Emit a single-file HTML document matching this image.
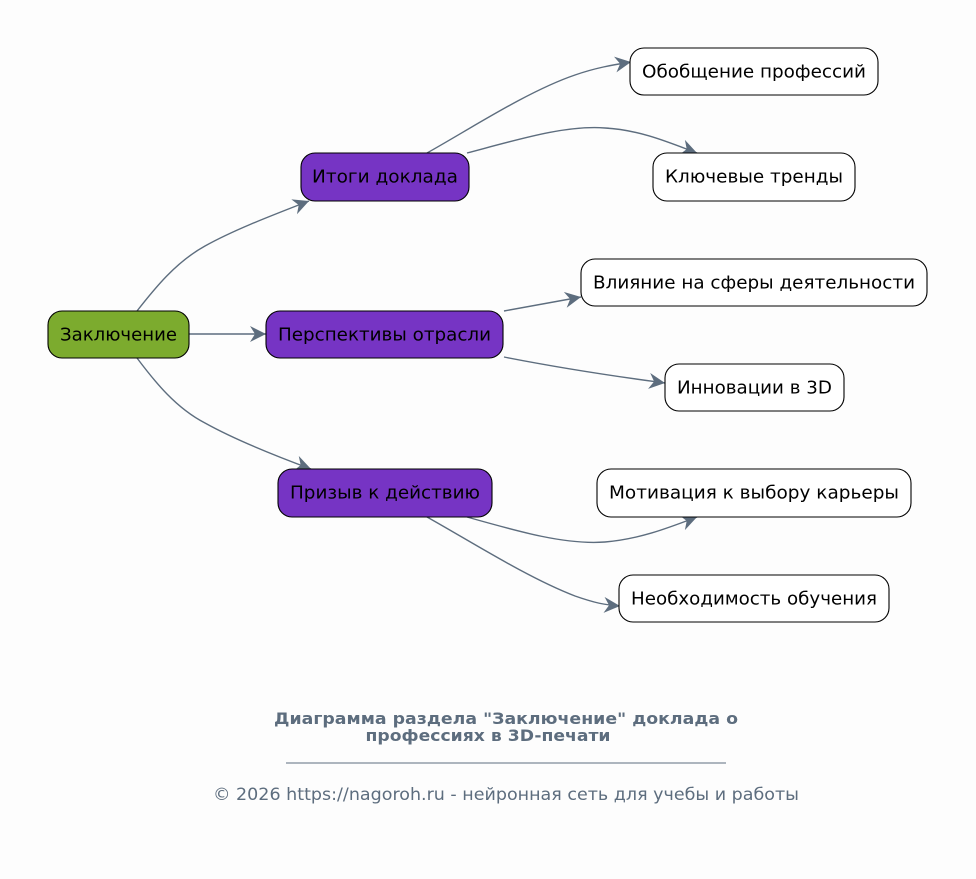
<!DOCTYPE html>
<html><head><meta charset="utf-8"><style>
html,body{margin:0;padding:0;background:#fdfdfd;}
svg{display:block;}
text{font-family:"DejaVu Sans","Liberation Sans",sans-serif;}
</style></head><body>
<svg width="976" height="879" viewBox="0 0 976 879" xmlns="http://www.w3.org/2000/svg">
<defs>
<marker id="a" markerUnits="userSpaceOnUse" markerWidth="22" markerHeight="18" refX="16" refY="8" orient="auto">
<path d="M16,8 L0,0 L5,8 L0,16 Z" fill="#5d6d7e"/>
</marker>
</defs>
<rect width="976" height="879" fill="#fdfdfd"/>
<g fill="none" stroke="#5d6d7e" stroke-width="1.4">
<path d="M137,311 C155,288 176,262 205,246 C232,231 265,218 309,201" marker-end="url(#a)"/>
<path d="M189,334 L266,334" marker-end="url(#a)"/>
<path d="M137,358 C155,382 176,408 205,423 C232,438 265,452 311,469" marker-end="url(#a)"/>
<path d="M427,153 C470,129 528,91 575,75 C595,68 612,65 631,62" marker-end="url(#a)"/>
<path d="M467,153 C520,139 566,125 605,128 C640,130 668,142 697,153" marker-end="url(#a)"/>
<path d="M504,311 L581,297" marker-end="url(#a)"/>
<path d="M504,357 C560,368 620,377 665,383" marker-end="url(#a)"/>
<path d="M467,517 C520,532 566,545 605,542 C640,539 668,528 697,517" marker-end="url(#a)"/>
<path d="M427,517 C470,541 528,578 575,596 C595,603 605,605 620,606" marker-end="url(#a)"/>
</g>
<g stroke="#000" stroke-width="1.1">
<rect x="48" y="311" width="141" height="47" rx="14" fill="#7cab2e"/>
<rect x="301" y="153" width="168" height="48" rx="14" fill="#7634c4"/>
<rect x="266" y="311" width="237" height="47" rx="14" fill="#7634c4"/>
<rect x="278" y="469" width="214" height="48" rx="14" fill="#7634c4"/>
<rect x="630" y="48" width="248" height="47" rx="14" fill="#fff"/>
<rect x="653" y="153" width="202" height="48" rx="14" fill="#fff"/>
<rect x="581" y="259" width="346" height="47" rx="14" fill="#fff"/>
<rect x="665" y="364" width="179" height="47" rx="14" fill="#fff"/>
<rect x="597" y="469" width="314" height="48" rx="14" fill="#fff"/>
<rect x="619" y="575" width="270" height="47" rx="14" fill="#fff"/>
</g>
<g font-size="18" fill="#000" text-anchor="middle">
<text x="118.5" y="340.5" textLength="117" lengthAdjust="spacingAndGlyphs">Заключение</text>
<text x="385" y="182.5" textLength="146" lengthAdjust="spacingAndGlyphs">Итоги доклада</text>
<text x="384.5" y="340.5" textLength="213" lengthAdjust="spacingAndGlyphs">Перспективы отрасли</text>
<text x="385" y="498.5" textLength="190" lengthAdjust="spacingAndGlyphs">Призыв к действию</text>
<text x="754" y="77.5" textLength="224" lengthAdjust="spacingAndGlyphs">Обобщение профессий</text>
<text x="754" y="182.5" textLength="178" lengthAdjust="spacingAndGlyphs">Ключевые тренды</text>
<text x="754" y="288.5" textLength="322" lengthAdjust="spacingAndGlyphs">Влияние на сферы деятельности</text>
<text x="754.5" y="393.5" textLength="155" lengthAdjust="spacingAndGlyphs">Инновации в 3D</text>
<text x="754" y="498.5" textLength="290" lengthAdjust="spacingAndGlyphs">Мотивация к выбору карьеры</text>
<text x="754" y="604.5" textLength="246" lengthAdjust="spacingAndGlyphs">Необходимость обучения</text>
</g>
<g fill="#5d6d7e" text-anchor="middle">
<text x="506" y="724" font-size="16" font-weight="bold" textLength="464" lengthAdjust="spacingAndGlyphs">Диаграмма раздела "Заключение" доклада о</text>
<text x="488" y="741" font-size="16" font-weight="bold" textLength="245" lengthAdjust="spacingAndGlyphs">профессиях в 3D-печати</text>
<rect x="286" y="762.5" width="440" height="1" fill="#5d6d7e"/>
<text x="506" y="800" font-size="17" textLength="586" lengthAdjust="spacingAndGlyphs">© 2026 https://nagoroh.ru - нейронная сеть для учебы и работы</text>
</g>
</svg>
</body></html>
